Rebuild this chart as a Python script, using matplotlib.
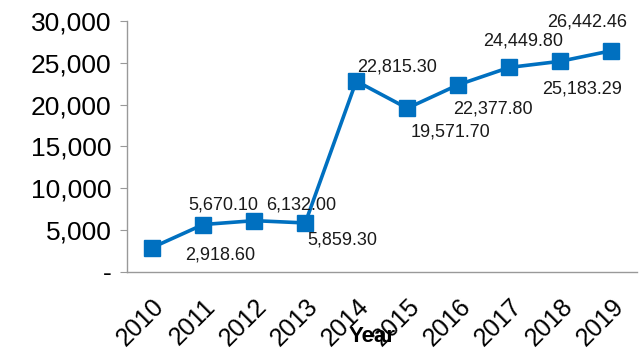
import matplotlib
matplotlib.use("Agg")
import matplotlib.pyplot as plt
from matplotlib.ticker import FuncFormatter

plt.rcParams["font.family"] = ["Liberation Sans", "DejaVu Sans"]

YEARS = ["2010", "2011", "2012", "2013", "2014", "2015", "2016", "2017", "2018", "2019"]
VALUES = [2918.60, 5670.10, 6132.00, 5859.30, 22815.30, 19571.70, 22377.80, 24449.80, 25183.29, 26442.46]
YTICKS = [0, 5000, 10000, 15000, 20000, 25000, 30000]

# data label placement as in the source chart (x in category units, y in data units)
LABEL_X = [1.34, 1.40, 2.93, 3.72, 4.80, 5.85, 6.68, 7.27, 8.42, 8.52]
LABEL_Y = [2020, 7990, 7990, 3820, 24500, 16700, 19500, 27600, 21900, 29840]
LABEL_VALUES = [2918.60, 5670.10, 6132.00, 5859.30, 22815.30, 19571.70, 22377.80, 24449.80, 25183.29, 26442.46]

BLUE = "#0070C0"


def yfmt(v, _):
    return "-" if v == 0 else f"{v:,.0f}"


fig = plt.figure(figsize=(6.4, 3.5), dpi=100)
ax = fig.add_axes([0.198, 0.223, 0.797, 0.717])

x = list(range(len(YEARS)))
ax.plot(x, VALUES, color=BLUE, linewidth=2.6, marker="s", markersize=11.5, zorder=3)

for lx, ly, v in zip(LABEL_X, LABEL_Y, LABEL_VALUES):
    ax.text(lx, ly, f"{v:,.2f}", ha="center", va="center", fontsize=13, color="#1a1a1a")

ax.set_xlim(-0.5, len(YEARS) - 0.5)
ax.set_ylim(0, 30000)
ax.set_yticks(YTICKS)
ax.yaxis.set_major_formatter(FuncFormatter(yfmt))
ax.tick_params(axis="y", labelsize=19, length=5, color="#999999", pad=6, labelcolor="black")

ax.set_xticks(x)
ax.set_xticklabels(YEARS, rotation=45, ha="right", rotation_mode="anchor", fontsize=18)
ax.tick_params(axis="x", length=0, pad=16)

for side in ["top", "right"]:
    ax.spines[side].set_visible(False)
ax.spines["left"].set_color("#999999")
ax.spines["bottom"].set_color("#999999")
ax.spines["left"].set_linewidth(1.0)
ax.spines["bottom"].set_linewidth(1.0)

fig.text(372 / 640, 1 - 336 / 350, "Year", ha="center", va="center", fontsize=16, fontweight="bold")

fig.savefig("out.png", dpi=100)
